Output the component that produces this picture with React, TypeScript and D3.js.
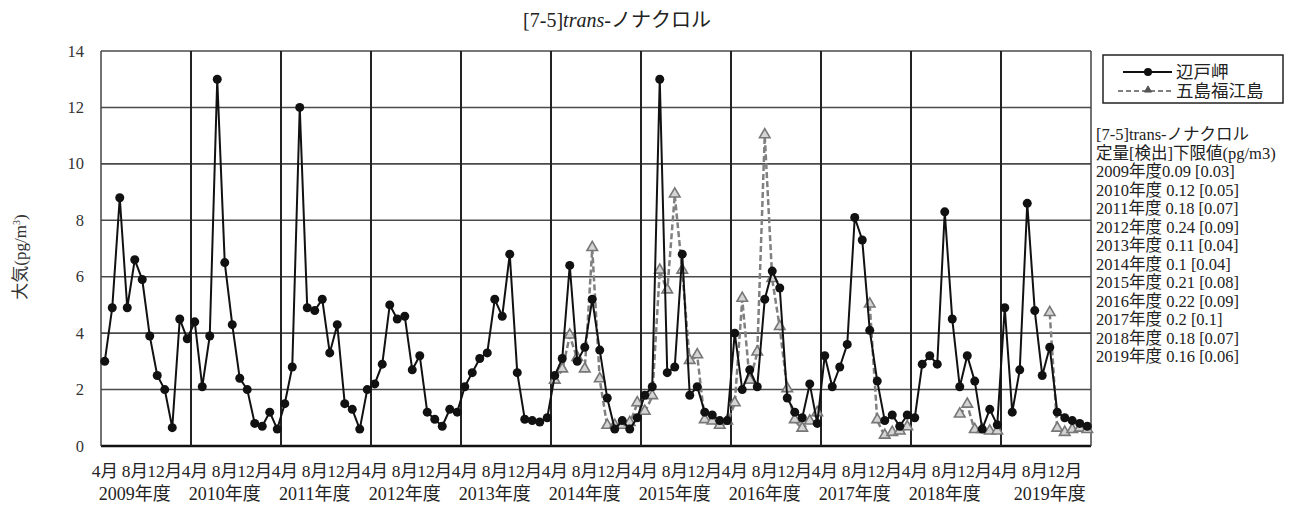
import React from "react";
import * as d3 from "d3";

const hedo: (number | null)[] = [
  3.0, 4.9, 8.8, 4.9, 6.6, 5.9, 3.9, 2.5, 2.0, 0.65, 4.5, 3.8,
  4.4, 2.1, 3.9, 13.0, 6.5, 4.3, 2.4, 2.0, 0.8, 0.7, 1.2, 0.6,
  1.5, 2.8, 12.0, 4.9, 4.8, 5.2, 3.3, 4.3, 1.5, 1.3, 0.6, 2.0,
  2.2, 2.9, 5.0, 4.5, 4.6, 2.7, 3.2, 1.2, 0.95, 0.7, 1.3, 1.2,
  2.1, 2.6, 3.1, 3.3, 5.2, 4.6, 6.8, 2.6, 0.95, 0.9, 0.85, 1.0,
  2.5, 3.1, 6.4, 3.0, 3.5, 5.2, 3.4, 1.7, 0.6, 0.9, 0.6, 1.0,
  1.8, 2.1, 13.0, 2.6, 2.8, 6.8, 1.8, 2.1, 1.2, 1.1, 0.9, 0.9,
  4.0, 2.0, 2.7, 2.1, 5.2, 6.2, 5.6, 1.7, 1.2, 1.0, 2.2, 0.8,
  3.2, 2.1, 2.8, 3.6, 8.1, 7.3, 4.1, 2.3, 0.9, 1.1, 0.7, 1.1,
  1.0, 2.9, 3.2, 2.9, 8.3, 4.5, 2.1, 3.2, 2.3, 0.6, 1.3, 0.75,
  4.9, 1.2, 2.7, 8.6, 4.8, 2.5, 3.5, 1.2, 1.0, 0.9, 0.8, 0.7,
];

const goto: (number | null)[] = [
  null, null, null, null, null, null, null, null, null, null, null, null,
  null, null, null, null, null, null, null, null, null, null, null, null,
  null, null, null, null, null, null, null, null, null, null, null, null,
  null, null, null, null, null, null, null, null, null, null, null, null,
  null, null, null, null, null, null, null, null, null, null, null, null,
  2.3, 2.7, 3.9, 3.1, 2.7, 7.0, 2.35, 0.7, 0.7, 0.7, 0.8, 1.5,
  1.2, 1.75, 6.2, 5.5, 8.9, 6.2, 3.0, 3.2, 0.9, 0.85, 0.7, 0.85,
  1.5, 5.2, 2.3, 3.3, 11.0, 5.9, 4.2, 2.0, 0.9, 0.6, 0.85, 1.15,
  null, null, null, null, null, null, 5.0, 0.9, 0.35, 0.45, 0.5, 0.65,
  null, null, null, null, null, null, 1.1, 1.45, 0.55, 0.55, 0.5, 0.5,
  null, null, null, null, null, null, 4.7, 0.6, 0.45, 0.55, 0.6, 0.55,
];

const monthLabels = ["4月", "8月", "12月"];
const yearLabels = [
  "2009年度", "2010年度", "2011年度", "2012年度", "2013年度", "2014年度",
  "2015年度", "2016年度", "2017年度", "2018年度", "2019年度",
];
const yearLabelCat = [4, 16, 28, 40, 52, 64, 76, 88, 100, 112, 126];
const yTicks = [0, 2, 4, 6, 8, 10, 12, 14];
const seriesNames = ["辺戸岬", "五島福江島"];
const limitLines = [
  "[7-5]trans-ノナクロル",
  "定量[検出]下限値(pg/m3)",
  "2009年度0.09 [0.03]",
  "2010年度 0.12 [0.05]",
  "2011年度 0.18 [0.07]",
  "2012年度 0.24 [0.09]",
  "2013年度 0.11 [0.04]",
  "2014年度 0.1 [0.04]",
  "2015年度 0.21 [0.08]",
  "2016年度 0.22 [0.09]",
  "2017年度 0.2 [0.1]",
  "2018年度 0.18 [0.07]",
  "2019年度 0.16 [0.06]",
];

const FONT = "'Liberation Serif', 'Noto Sans CJK JP', serif";

export default function App() {
  const W = 1291, H = 505;
  const L = 101, R = 1091, T = 51, B = 446;
  const idx = d3.range(hedo.length);
  const x = d3.scaleBand<number>().domain(idx).range([L, R]).paddingInner(0).paddingOuter(0);
  const cx = (i: number) => (x(i) as number) + x.bandwidth() / 2;
  const y = d3.scaleLinear().domain([0, 14]).range([B, T]);

  const line = d3.line<number | null>()
    .defined((d) => d != null)
    .x((_, i) => cx(i))
    .y((d) => y(d as number));

  const tri = d3.symbol().type(d3.symbolTriangle).size(48);
  const triSmall = d3.symbol().type(d3.symbolTriangle).size(22);
  const years = d3.range(1, 11).map((k) => k * 12);

  return (
    <svg width={W} height={H} style={{ position: "absolute", left: 0, top: 0, background: "#fff" }} fontFamily={FONT}>
      <text x={617} y={27} textAnchor="middle" fontSize={20} fill="#222">
        [7-5]<tspan fontStyle="italic">trans</tspan>-ノナクロル
      </text>

      {yTicks.map((t) => (
        <line key={"g" + t} x1={L} x2={R} y1={y(t)} y2={y(t)} stroke={t === 0 ? "#111" : "#4a4a4a"} strokeWidth={t === 0 ? 2.5 : 1.6} />
      ))}
      {years.map((k) => (
        <line key={"v" + k} x1={x(k) as number} x2={x(k) as number} y1={T} y2={B} stroke="#222" strokeWidth={2} />
      ))}
      <line x1={L} x2={L} y1={T} y2={B} stroke="#444" strokeWidth={1.5} />
      <line x1={R} x2={R} y1={T} y2={B} stroke="#444" strokeWidth={1.5} />

      {yTicks.map((t) => (
        <text key={"yt" + t} x={84} y={y(t) + 5.5} textAnchor="end" fontSize={16.5} fill="#333">{t}</text>
      ))}
      <text transform="translate(26,257) rotate(-90)" textAnchor="middle" fontSize={17} fill="#333">
        大気(pg/m<tspan fontSize={10} dy={-6}>3</tspan><tspan dy={6}>)</tspan>
      </text>

      {idx.filter((i) => i % 4 === 0).map((i) => (
        <text key={"m" + i} x={cx(i)} y={477} textAnchor="middle" fontSize={17.5} fill="#222">
          {monthLabels[(i % 12) / 4]}
        </text>
      ))}
      {yearLabels.map((s, k) => (
        <text key={"yl" + k} x={cx(yearLabelCat[k])} y={500} textAnchor="middle" fontSize={18} fill="#222">{s}</text>
      ))}

      <path d={line(goto) || ""} fill="none" stroke="#808080" strokeWidth={2.5} strokeDasharray="6,3" />
      {goto.map((v, i) => v == null ? null : (
        <path key={"t" + i} d={tri() || ""} transform={`translate(${cx(i)},${y(v) - 1})`} fill="#d4d4d4" stroke="#777" strokeWidth={1.6} />
      ))}

      <path d={line(hedo) || ""} fill="none" stroke="#111" strokeWidth={2} />
      {hedo.map((v, i) => v == null ? null : (
        <circle key={"c" + i} cx={cx(i)} cy={y(v)} r={4.5} fill="#111" />
      ))}

      <rect x={1103} y={55} width={180} height={48} fill="#fff" stroke="#222" strokeWidth={1.5} />
      <line x1={1123} x2={1172} y1={72} y2={72} stroke="#111" strokeWidth={2} />
      <circle cx={1148} cy={72} r={4} fill="#111" />
      <text x={1176} y={78} fontSize={17.5} fill="#222">{seriesNames[0]}</text>
      <line x1={1118} x2={1172} y1={91} y2={91} stroke="#808080" strokeWidth={2} strokeDasharray="5,3" />
      <path d={triSmall() || ""} transform="translate(1148,90)" fill="#555" stroke="#555" strokeWidth={1} />
      <text x={1176} y={97} fontSize={17.5} fill="#222">{seriesNames[1]}</text>

      {limitLines.map((s, k) => (
        <text key={"ll" + k} x={1096} y={140 + k * 18.5} fontSize={16.5} fill="#222">{s}</text>
      ))}
    </svg>
  );
}
